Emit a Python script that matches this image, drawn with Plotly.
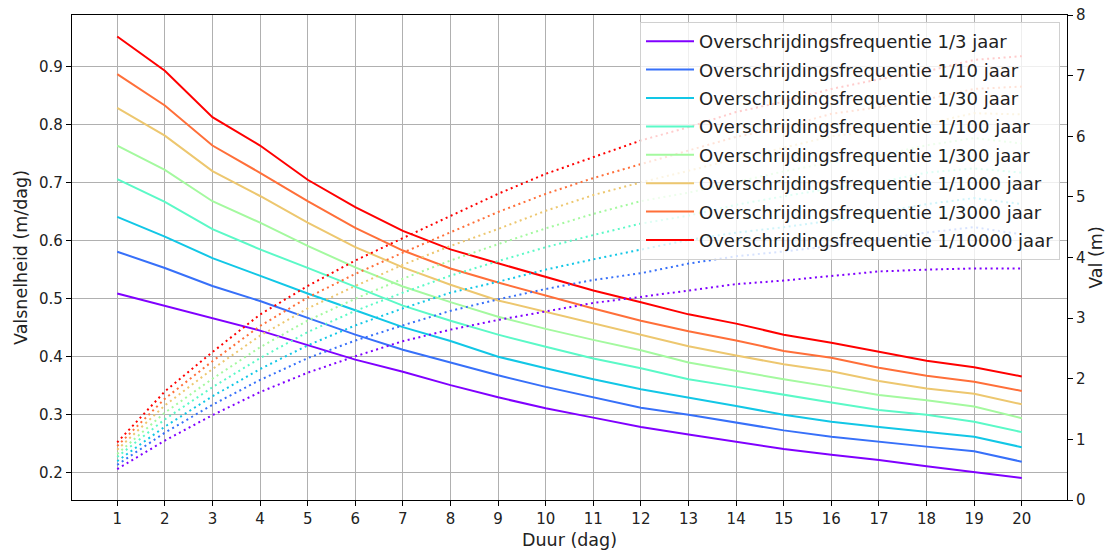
import plotly.graph_objects as go

duur = list(range(1, 21))

labels = [
    "Overschrijdingsfrequentie 1/3 jaar",
    "Overschrijdingsfrequentie 1/10 jaar",
    "Overschrijdingsfrequentie 1/30 jaar",
    "Overschrijdingsfrequentie 1/100 jaar",
    "Overschrijdingsfrequentie 1/300 jaar",
    "Overschrijdingsfrequentie 1/1000 jaar",
    "Overschrijdingsfrequentie 1/3000 jaar",
    "Overschrijdingsfrequentie 1/10000 jaar",
]

colors = ["#8000ff", "#3770f9", "#12c7e6", "#5bf9c7",
          "#a4f99f", "#edc76f", "#ff6f39", "#ff0000"]

# Valsnelheid (m/dag)
snelheid_3 = [0.509, 0.488, 0.467, 0.445, 0.420, 0.395, 0.374, 0.351, 0.330, 0.311,
              0.295, 0.279, 0.266, 0.254, 0.241, 0.231, 0.222, 0.211, 0.201, 0.191]
snelheid_10 = [0.581, 0.553, 0.522, 0.496, 0.467, 0.438, 0.412, 0.390, 0.368, 0.348,
               0.330, 0.312, 0.300, 0.287, 0.273, 0.262, 0.253, 0.245, 0.237, 0.219]
snelheid_30 = [0.641, 0.607, 0.570, 0.539, 0.509, 0.480, 0.451, 0.427, 0.400, 0.380,
               0.361, 0.344, 0.330, 0.315, 0.300, 0.288, 0.279, 0.271, 0.262, 0.244]
snelheid_100 = [0.706, 0.667, 0.620, 0.585, 0.553, 0.520, 0.488, 0.462, 0.438, 0.417,
                0.397, 0.380, 0.361, 0.348, 0.334, 0.321, 0.308, 0.300, 0.288, 0.270]
snelheid_300 = [0.764, 0.722, 0.668, 0.631, 0.591, 0.554, 0.521, 0.494, 0.469, 0.448,
                0.429, 0.411, 0.390, 0.375, 0.361, 0.348, 0.334, 0.325, 0.314, 0.294]
snelheid_1000 = [0.829, 0.781, 0.720, 0.677, 0.631, 0.589, 0.554, 0.524, 0.497, 0.477,
                 0.457, 0.437, 0.418, 0.402, 0.387, 0.375, 0.358, 0.345, 0.336, 0.318]
snelheid_3000 = [0.887, 0.833, 0.764, 0.717, 0.668, 0.622, 0.583, 0.552, 0.528, 0.505,
                 0.483, 0.462, 0.444, 0.428, 0.410, 0.398, 0.381, 0.367, 0.357, 0.341]
snelheid_10000 = [0.952, 0.893, 0.813, 0.764, 0.705, 0.658, 0.617, 0.585, 0.561, 0.538,
                  0.514, 0.494, 0.473, 0.457, 0.438, 0.424, 0.408, 0.393, 0.382, 0.366]

# Val (m)
val_3 = [0.51, 0.98, 1.40, 1.78, 2.10, 2.37, 2.62, 2.81, 2.97, 3.11,
         3.25, 3.35, 3.46, 3.56, 3.62, 3.70, 3.77, 3.80, 3.82, 3.82]
val_10 = [0.58, 1.11, 1.57, 1.98, 2.34, 2.63, 2.88, 3.12, 3.31, 3.48,
          3.63, 3.74, 3.90, 4.02, 4.10, 4.19, 4.30, 4.41, 4.50, 4.38]
val_30 = [0.64, 1.21, 1.71, 2.16, 2.55, 2.88, 3.16, 3.42, 3.60, 3.80,
          3.97, 4.13, 4.29, 4.41, 4.50, 4.61, 4.74, 4.88, 4.98, 4.88]
val_100 = [0.71, 1.33, 1.86, 2.34, 2.77, 3.12, 3.42, 3.70, 3.94, 4.17,
           4.37, 4.56, 4.69, 4.87, 5.01, 5.14, 5.24, 5.40, 5.47, 5.40]
val_300 = [0.76, 1.44, 2.00, 2.52, 2.96, 3.32, 3.65, 3.95, 4.22, 4.48,
           4.72, 4.93, 5.07, 5.25, 5.42, 5.57, 5.68, 5.85, 5.97, 5.88]
val_1000 = [0.83, 1.56, 2.16, 2.71, 3.16, 3.53, 3.88, 4.19, 4.47, 4.77,
            5.03, 5.24, 5.43, 5.63, 5.81, 6.00, 6.09, 6.21, 6.38, 6.36]
val_3000 = [0.89, 1.67, 2.29, 2.87, 3.34, 3.73, 4.08, 4.42, 4.75, 5.05,
            5.31, 5.54, 5.77, 5.99, 6.15, 6.37, 6.48, 6.61, 6.78, 6.82]
val_10000 = [0.95, 1.79, 2.44, 3.06, 3.53, 3.95, 4.32, 4.68, 5.05, 5.38,
             5.65, 5.93, 6.15, 6.40, 6.57, 6.78, 6.94, 7.07, 7.26, 7.32]

snelheden = [snelheid_3, snelheid_10, snelheid_30, snelheid_100,
             snelheid_300, snelheid_1000, snelheid_3000, snelheid_10000]
vallen = [val_3, val_10, val_30, val_100, val_300, val_1000, val_3000, val_10000]

FONT = "DejaVu Sans"
fig = go.Figure()

for lab, col, s in zip(labels, colors, snelheden):
    fig.add_trace(go.Scatter(x=duur, y=s, mode="lines", name=lab,
                             legendgroup=lab,
                             line=dict(color=col, width=2)))
for lab, col, v in zip(labels, colors, vallen):
    fig.add_trace(go.Scatter(x=duur, y=v, mode="lines", name=lab, yaxis="y2",
                             showlegend=False, legendgroup=lab,
                             line=dict(color=col, width=2, dash="2px,3.5px")))

fig.update_layout(
    width=1111, height=552,
    margin=dict(l=72, r=44, t=15, b=52, autoexpand=False),
    plot_bgcolor="white", paper_bgcolor="white",
    font=dict(family=FONT, size=15, color="#222222"),
    xaxis=dict(range=[0.05, 20.95], tickmode="array", tickvals=duur,
               ticktext=[str(d) for d in duur],
               showgrid=True, gridcolor="#b0b0b0", gridwidth=1,
               showline=True, linecolor="black", linewidth=1.2, mirror=True,
               ticks="outside", ticklen=5, tickcolor="black",
               zeroline=False, automargin=False,
               title=dict(text="Duur (dag)", font=dict(size=17.5), standoff=6)),
    yaxis=dict(range=[0.153, 0.989], tickmode="array",
               tickvals=[0.2, 0.3, 0.4, 0.5, 0.6, 0.7, 0.8, 0.9],
               ticktext=["0.2", "0.3", "0.4", "0.5", "0.6", "0.7", "0.8", "0.9"],
               showgrid=True, gridcolor="#b0b0b0", gridwidth=1,
               showline=True, linecolor="black", linewidth=1.2,
               ticks="outside", ticklen=5, tickcolor="black",
               zeroline=False, automargin=False,
               title=dict(text="Valsnelheid (m/dag)", font=dict(size=17.5), standoff=6)),
    yaxis2=dict(range=[0, 8], overlaying="y", side="right",
                tickmode="array", tickvals=list(range(0, 9)),
                ticktext=[str(i) for i in range(0, 9)],
                showgrid=False, zeroline=False, automargin=False,
                showline=True, linecolor="black", linewidth=1.2,
                ticks="outside", ticklen=5, tickcolor="black",
                title=dict(text="Val (m)", font=dict(size=17.5), standoff=4)),
    legend=dict(x=1 - 7 / 995, y=1 - 7 / 485, xanchor="right", yanchor="top",
                bgcolor="rgba(255,255,255,0.8)", bordercolor="#d0d0d0",
                borderwidth=1, font=dict(size=18, color="#222222"),
                traceorder="grouped", tracegroupgap=2,
                itemwidth=48),
    showlegend=True,
)

fig.write_html("out.html")
